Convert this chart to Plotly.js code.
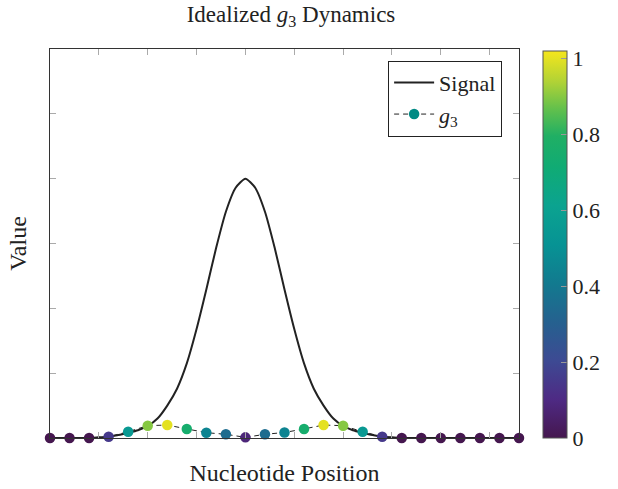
<!DOCTYPE html>
<html>
<head>
<meta charset="utf-8">
<script src="https://cdn.plot.ly/plotly-3.0.1.min.js"></script>
<style>html,body{margin:0;padding:0;background:#fff;}#chart{width:618px;height:489px;}</style>
</head>
<body>
<div id="chart"></div>
<script>
// Nucleotide positions for the signal curve (fine sampling)
var signalX = [0,1,2,3,4,5,6,7,8,9,10,11,12,13,14,15,16,17,18,19,20,21,22,23,24,25,26,27,28,29,30,31,32,33,34,35,36,37,38,39,40,41,42,43,44,45,46,47,48];
var signalY = [0,0,0,0,0,0.01,0.02,0.045,0.08,0.12,0.185,0.3,0.5,0.76,1.15,1.68,2.29,2.93,3.49,3.86,4.0,3.86,3.49,2.93,2.29,1.68,1.15,0.76,0.5,0.3,0.185,0.12,0.08,0.045,0.02,0.01,0,0,0,0,0,0,0,0,0,0,0,0,0];
// g3 sample positions and values
var g3X = [0,2,4,6,8,10,12,14,16,18,20,22,24,26,28,30,32,34,36,38,40,42,44,46,48];
var g3Y = [0,0,0,0.02,0.097,0.19,0.2,0.14,0.082,0.057,0.01,0.057,0.085,0.14,0.2,0.19,0.097,0.02,0,0,0,0,0,0,0];
var g3Color = [0,0,0,0.15,0.55,0.9,1.0,0.75,0.45,0.35,0.08,0.35,0.45,0.75,1.0,0.9,0.55,0.15,0,0,0,0,0,0,0];
var colorTicks = [0,0.2,0.4,0.6,0.8,1];
var colorTickText = ['0','0.2','0.4','0.6','0.8','1'];

var cscale = [
  [0.0,'#45174f'],[0.1,'#4e2a84'],[0.2,'#3d4a93'],[0.3,'#25618f'],[0.4,'#127a8f'],
  [0.5,'#079394'],[0.6,'#0ba390'],[0.7,'#10ab74'],[0.78,'#20af64'],[0.85,'#62c04c'],
  [0.92,'#b0d236'],[1.0,'#f5e61c']
];
var font = 'Liberation Serif, Times New Roman, serif';

var traces = [
  {x: signalX, y: signalY, mode: 'lines', name: 'Signal',
   line: {color: '#222', width: 2, shape: 'spline', smoothing: 0.6}},
  {x: g3X, y: g3Y, mode: 'lines+markers', name: '<i>g</i><sub>3</sub>', showlegend: false,
   cliponaxis: false,
   line: {color: '#222', width: 1, dash: '5px,4px'},
   marker: {size: 10.5, color: g3Color, colorscale: cscale, cmin: 0, cmax: 1.02,
     showscale: true,
     colorbar: {x: 543/618, xanchor: 'left', xref: 'container', thickness: 24, thicknessmode: 'pixels',
       y: 0, yanchor: 'bottom', len: 0.995, lenmode: 'fraction', xpad: 0, ypad: 0,
       outlinewidth: 1, outlinecolor: '#555',
       tickvals: colorTicks, ticktext: colorTickText, ticks: 'inside', ticklen: 6,
       tickcolor: '#999', tickfont: {family: font, size: 22, color: '#222'}}}},
  {x: [null], y: [null], mode: 'lines+markers', name: '<i>g</i><sub>3</sub>',
   line: {color: '#222', width: 1, dash: '5px,4px'},
   marker: {size: 10.5, color: '#008a84'}}
];

var layout = {
  width: 618, height: 489,
  margin: {l: 50, r: 99, t: 49, b: 51},
  paper_bgcolor: '#fff', plot_bgcolor: '#fff',
  font: {family: font, color: '#222'},
  title: {text: 'Idealized <i>g</i><sub>3</sub> Dynamics', font: {family: font, size: 23, color: '#222'},
    x: 291/618, xanchor: 'center', y: 0.972, yanchor: 'middle'},
  xaxis: {range: [0, 48], dtick: 5, tick0: 0, showticklabels: false, ticks: 'inside', ticklen: 6,
    tickcolor: '#aaa', showgrid: false, zeroline: false, showline: true, linecolor: '#333',
    linewidth: 1, mirror: 'ticks',
    title: {text: 'Nucleotide Position', font: {family: font, size: 24, color: '#222'}, standoff: 26}},
  yaxis: {range: [0, 6], dtick: 1, tick0: 0, showticklabels: false, ticks: 'inside', ticklen: 6,
    tickcolor: '#aaa', showgrid: false, zeroline: false, showline: true, linecolor: '#333',
    linewidth: 1, mirror: 'ticks',
    title: {text: 'Value', font: {family: font, size: 24, color: '#222'}, standoff: 15}},
  showlegend: true,
  legend: {x: 0.964, xanchor: 'right', y: 0.97, yanchor: 'top', bgcolor: '#fff',
    bordercolor: '#222', borderwidth: 1, font: {family: font, size: 22, color: '#222'},
    tracegroupgap: 0, itemwidth: 40}
};

Plotly.newPlot('chart', traces, layout, {displayModeBar: false, staticPlot: true});
</script>
</body>
</html>
